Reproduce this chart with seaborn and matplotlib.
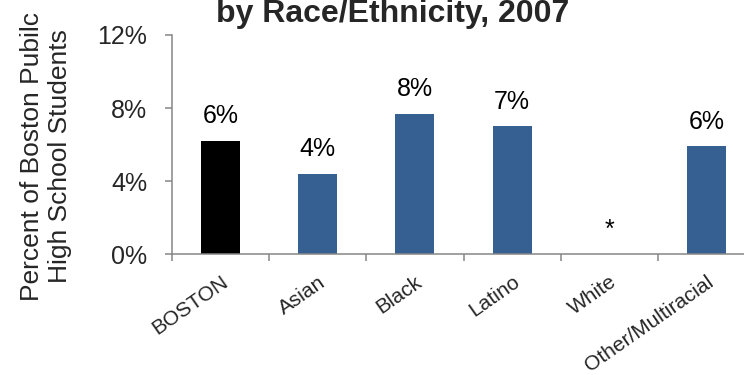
import numpy as np
import matplotlib
matplotlib.use("Agg")
import matplotlib.pyplot as plt
import seaborn as sns

# values (percent of Boston public high school students)
categories = ["BOSTON", "Asian", "Black", "Latino", "White", "Other/Multiracial"]
values = [6.2, 4.4, 7.7, 7.0, 0.0, 5.9]
bar_labels = ["6%", "4%", "8%", "7%", "*", "6%"]
y_ticks = [0, 4, 8, 12]
colors = ["#000000", "#376092", "#376092", "#376092", "#376092", "#376092"]

sns.set_theme(style="white")
plt.rcParams["font.family"] = ["Liberation Sans", "DejaVu Sans"]

fig = plt.figure(figsize=(7.44, 3.75), dpi=100)
ax = fig.add_axes([0.2312, 0.3219, 0.7836, 0.5848])

sns.barplot(x=categories, y=values, hue=categories, palette=colors,
            saturation=1, width=0.4, linewidth=0, legend=False, ax=ax)

for cont, lab in zip(ax.containers, bar_labels):
    ax.bar_label(cont, labels=[lab], padding=9, fontsize=18, color="black")

ax.set_xlim(-0.5, len(categories) - 0.5)
ax.set_ylim(0, 12)
ax.set_yticks(y_ticks)
ax.set_yticklabels([f"{t}%" for t in y_ticks], fontsize=18)

# category labels at centres, tick marks at the boundaries
ax.set_xticks(range(len(categories)))
ax.set_xticks(np.arange(-0.5, len(categories)), minor=True)
ax.set_xticklabels(categories, fontsize=15, rotation=35, ha="right",
                   rotation_mode="anchor", va="top")
ax.tick_params(axis="x", which="major", length=0, pad=13)
ax.tick_params(axis="x", which="minor", length=5, width=1.1,
               color="#868686", direction="out", bottom=True)
ax.tick_params(axis="y", length=5, width=1.1, color="#868686",
               direction="out", left=True, pad=13)

for side in ["top", "right"]:
    ax.spines[side].set_visible(False)
for side in ["left", "bottom"]:
    ax.spines[side].set_color("#868686")
    ax.spines[side].set_linewidth(1.1)

ax.set_xlabel("")
ax.set_ylabel("Percent of Boston Pubilc\nHigh School Students", fontsize=19,
              linespacing=1.2)
ax.yaxis.set_label_coords(-0.172, 0.448)

fig.text(393 / 744, 1 - 22 / 375, "by Race/Ethnicity, 2007", ha="center",
         va="baseline", fontsize=23, fontweight="bold")

fig.savefig("out.png", dpi=100)
